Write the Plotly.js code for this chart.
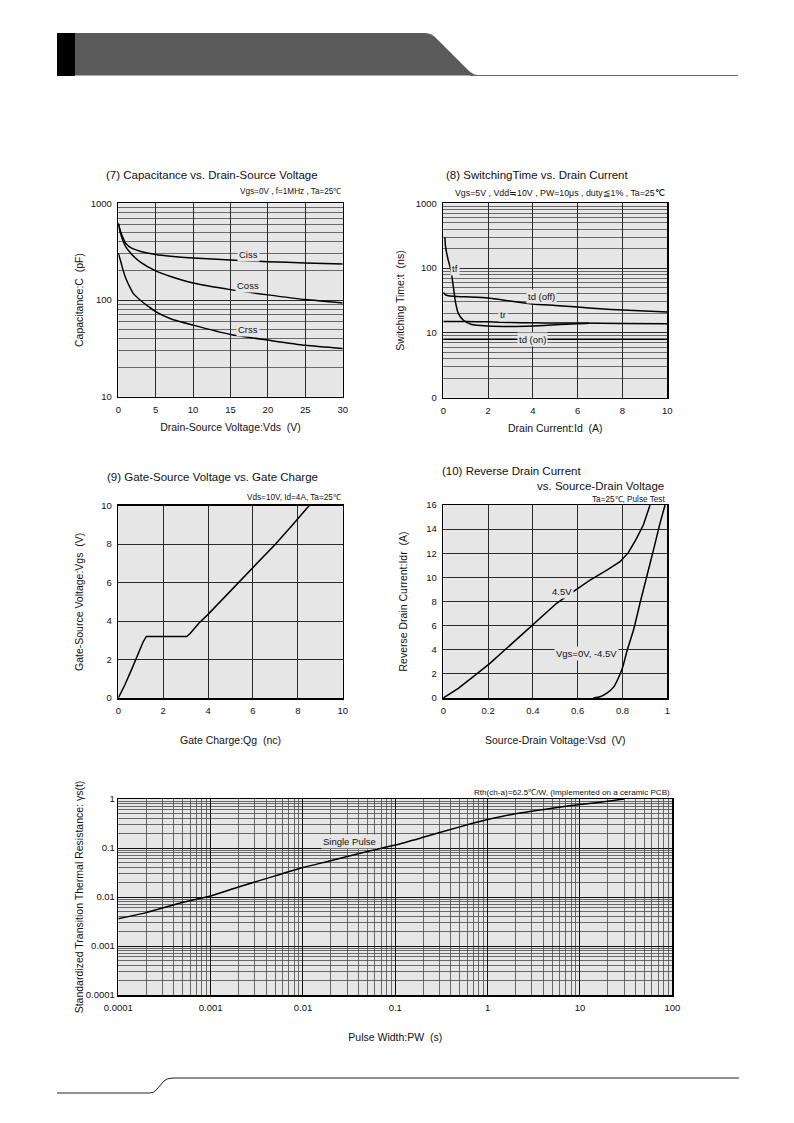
<!DOCTYPE html>
<html><head><meta charset="utf-8">
<script src="https://cdn.plot.ly/plotly-3.0.1.min.js"></script>
<style>
html,body{margin:0;padding:0;background:#fff;}
#wrap{position:relative;width:794px;height:1123px;overflow:hidden;}
#chart{position:absolute;left:0;top:0;width:794px;height:1123px;}
#deco{position:absolute;left:0;top:0;pointer-events:none;}
</style>
</head><body>
<div id="wrap">
<div id="chart"></div>
<svg id="deco" width="794" height="1123">
  <rect x="57" y="33" width="18" height="43" fill="#000"/>
  <path d="M75,33 L425,33 Q432,33 437,39 L468,70 Q473,75.5 482,75.5 L75,75.5 Z" fill="#5a5a5a"/>
  <line x1="470" y1="75.5" x2="738" y2="75.5" stroke="#666" stroke-width="1"/>
  <path d="M57,1093 L150,1093 Q154,1093 157,1089 L164,1081 Q167,1078 173,1078 L739,1078" fill="none" stroke="#222" stroke-width="1"/>
</svg>
</div>
<script>
// ---------- (7) Capacitance vs. Drain-Source Voltage ----------
const vdsCiss = [0, 0.3, 0.6, 1, 1.5, 2, 3, 5, 7, 10, 15, 20, 25, 30];
const ciss    = [620, 510, 445, 385, 355, 338, 318, 296, 284, 272, 259, 249, 242, 236];
const vdsCoss = [0, 0.3, 0.6, 1, 1.5, 2, 3, 5, 7, 10, 15, 20, 25, 30];
const coss    = [620, 490, 415, 355, 315, 285, 245, 200, 175, 150, 128, 113, 101, 93];
const vdsCrss = [0, 0.3, 0.67, 1, 1.56, 2, 2.9, 4, 5, 7, 10, 15, 20, 25, 30];
const crss    = [305, 255, 200, 168, 135, 117, 100, 86, 76, 64, 55, 44, 38.5, 34, 31.5];
const capLabels = ['Ciss', 'Coss', 'Crss'];
const capLabelX = [17.4, 17.4, 17.4];
const capLabelY = [299, 140, 49];

// ---------- (8) Switching Time vs. Drain Current ----------
const idTdOff = [0, 0.1, 0.3, 1, 2, 3, 4, 5, 6, 7, 8, 9, 10];
const tdOff   = [42, 38.5, 37, 36, 34.5, 31, 28, 26.5, 25, 23.5, 22.5, 21.7, 21];
const idTr    = [0, 1, 2, 3, 4, 5, 6, 8, 10];
const tr      = [15, 15, 14.8, 14.5, 14.3, 14.2, 14.2, 14, 13.8];
const idTf    = [0.07, 0.1, 0.22, 0.34, 0.45, 0.55, 0.67, 0.89, 1.26, 2, 3, 4, 5, 6, 6.5];
const tf      = [300, 215, 133, 93, 51, 29, 20, 15.8, 13.5, 12.8, 12.6, 12.8, 13.3, 13.9, 14.1];
const idTdOn  = [0, 10];
const tdOn    = [8, 8];
const swLabels = ['tf', 'td (off)', 'tr', 'td (on)'];
const swLabelX = [0.52, 4.39, 2.68, 4.0];
const swLabelY = [100, 37, 19, 7.8];

// ---------- (9) Gate-Source Voltage vs. Gate Charge ----------
const qg  = [0, 0.3, 0.6, 0.9, 1.1, 1.25, 3.05, 3.2, 3.6, 4, 5, 6, 7, 7.8, 8.1, 8.5];
const vgs = [0, 0.7, 1.5, 2.4, 2.9, 3.2, 3.2, 3.35, 3.9, 4.35, 5.55, 6.75, 8.0, 9.05, 9.45, 10];

// ---------- (10) Reverse Drain Current vs. Source-Drain Voltage ----------
const vsd45 = [0, 0.067, 0.134, 0.208, 0.283, 0.357, 0.432, 0.506, 0.58, 0.655, 0.73, 0.789, 0.826, 0.863, 0.893, 0.923];
const idr45 = [0, 0.8, 1.77, 2.87, 4.12, 5.36, 6.6, 7.85, 8.81, 9.78, 10.6, 11.3, 12.05, 13.24, 14.34, 16];
const vsd0  = [0.67, 0.7, 0.73, 0.76, 0.78, 0.8, 0.82, 0.85, 0.88, 0.91, 0.94, 0.965, 0.99];
const idr0  = [0, 0.1, 0.4, 0.9, 1.6, 2.5, 3.9, 5.7, 8.0, 10.2, 12.4, 14.3, 16];
const rdLabels = ['4.5V', 'Vgs=0V, -4.5V'];
const rdLabelX = [0.528, 0.64];
const rdLabelY = [8.81, 3.7];

// ---------- (11) Transient thermal resistance ----------
const pw  = [1e-4, 2e-4, 5e-4, 1e-3, 2e-3, 5e-3, 1e-2, 2e-2, 5e-2, 0.1, 0.2, 0.5, 1, 2, 5, 10, 20, 30];
const rth = [0.0036, 0.0048, 0.0078, 0.0105, 0.016, 0.027, 0.040, 0.055, 0.085, 0.115, 0.165, 0.27, 0.38, 0.5, 0.65, 0.77, 0.9, 1.0];
const pwTicks  = [1e-4, 1e-3, 1e-2, 0.1, 1, 10, 100];
const pwText   = ['0.0001', '0.001', '0.01', '0.1', '1', '10', '100'];
const rthTicks = [1e-4, 1e-3, 1e-2, 0.1, 1];
const rthText  = ['0.0001', '0.001', '0.01', '0.1', '1'];

// ---------- helpers ----------
const FONT = 'Liberation Sans, Arial, Helvetica, sans-serif';
const W = 794, H = 1123;
const dx = (a, b) => [a / W, b / W];
const dy = (top, bot) => [1 - bot / H, 1 - top / H];
function minorLog(d0, d1) { const v = []; for (let e = d0; e < d1; e++) for (let k = 2; k <= 9; k++) v.push(k * Math.pow(10, e)); return v; }

function ax(extra) {
  return Object.assign({
    showline: true, mirror: true, linecolor: '#000', linewidth: 1.5, ticks: '',
    showgrid: true, gridcolor: '#2a2a2a', gridwidth: 1, zeroline: false, ticklabelstandoff: 3,
    tickfont: {family: FONT, size: 9.5, color: '#111'}, fixedrange: true
  }, extra);
}
function ttl(text, standoff) { return {text: text, font: {family: FONT, size: 10.5, color: '#111'}, standoff: standoff}; }

const lineStyle = {color: '#000', width: 1.5};
function tr_(x, y, xa, ya, shape) { return {x: x, y: y, xaxis: xa, yaxis: ya, type: 'scatter', mode: 'lines', line: Object.assign({}, lineStyle, shape ? {shape: shape, smoothing: 0.6} : {}), hoverinfo: 'skip'}; }

const data = [
  tr_(vdsCiss, ciss, 'x', 'y', 'spline'),
  tr_(vdsCoss, coss, 'x', 'y', 'spline'),
  tr_(vdsCrss, crss, 'x', 'y', 'spline'),
  tr_(idTdOff, tdOff, 'x2', 'y2', 'spline'),
  tr_(idTr, tr, 'x2', 'y2', 'spline'),
  tr_(idTf, tf, 'x2', 'y2', 'spline'),
  tr_(idTdOn, tdOn, 'x2', 'y2'),
  tr_(qg, vgs, 'x3', 'y3'),
  tr_(vsd45, idr45, 'x4', 'y4'),
  tr_(vsd0, idr0, 'x4', 'y4', 'spline'),
  tr_(pw, rth, 'x5', 'y5', 'spline')
];

const annotations = [];
function paperText(text, x, y, xanchor, size) {
  annotations.push({text: text, x: x / W, y: 1 - y / H, xref: 'paper', yref: 'paper', xanchor: xanchor, yanchor: 'middle', showarrow: false, font: {family: FONT, size: size, color: '#111'}});
}
function inText(text, x, y, xa, ya, size) {
  annotations.push({text: text, x: x, y: y, xref: xa, yref: ya, xanchor: 'center', yanchor: 'middle', showarrow: false, bgcolor: '#e6e6e6', borderpad: 1, font: {family: FONT, size: size || 9.5, color: '#111'}});
}
// chart titles and conditions
paperText('(7) Capacitance vs. Drain-Source Voltage', 104, 175, 'left', 11.5);
paperText('Vgs=0V , f=1MHz , Ta=25℃', 343, 192, 'right', 8.2);
paperText('(8) SwitchingTime vs. Drain Current', 444, 175, 'left', 11.5);
paperText('Vgs=5V , Vdd≒10V , PW=10μs , duty≦1% , Ta=25℃', 667, 193, 'right', 8.8);
paperText('(9) Gate-Source Voltage vs. Gate Charge', 105, 477, 'left', 11.5);
paperText('Vds=10V, Id=4A, Ta=25℃', 343, 498, 'right', 8.2);
paperText('(10) Reverse Drain Current', 440, 471, 'left', 11.5);
paperText('vs. Source-Drain Voltage', 666, 486, 'right', 11.5);
paperText('Ta=25℃, Pulse Test', 667, 499, 'right', 8.2);
paperText('Rth(ch-a)=62.5℃/W, (Implemented on a ceramic PCB)', 672, 792, 'right', 8.1);
// in-plot labels
capLabels.forEach((t, i) => inText(t, capLabelX[i], Math.log10(capLabelY[i]), 'x', 'y'));
swLabels.forEach((t, i) => inText(t, swLabelX[i], Math.log10(swLabelY[i]), 'x2', 'y2'));
rdLabels.forEach((t, i) => inText(t, rdLabelX[i], rdLabelY[i], 'x4', 'y4'));
inText('Single Pulse', Math.log10(0.032), Math.log10(0.135), 'x5', 'y5');

const minorStyle = {showgrid: true, gridcolor: '#4a4a4a', gridwidth: 0.8, ticks: ''};

const layout = {
  width: W, height: H, margin: {l: 0, r: 0, t: 0, b: 0},
  paper_bgcolor: '#fff', plot_bgcolor: '#e6e6e6', showlegend: false,
  font: {family: FONT, color: '#111'},
  annotations: annotations,
  // (7)
  xaxis: ax({domain: dx(118.3, 342.7), anchor: 'y', range: [0, 30], dtick: 5, tick0: 0,
    title: ttl('Drain-Source Voltage:Vds  (V)', 10)}),
  yaxis: ax({domain: dy(203.3, 396.7), anchor: 'x', type: 'log', range: [1, 3],
    tickvals: [10, 100, 1000], ticktext: ['10', '100', '1000'],
    minor: Object.assign({tickvals: minorLog(1, 3)}, minorStyle),
    title: ttl('Capacitance:C  (pF)', 5)}),
  // (8)
  xaxis2: ax({domain: dx(443.3, 667.3), anchor: 'y2', range: [0, 10], dtick: 2, tick0: 0,
    title: ttl('Drain Current:Id  (A)', 10)}),
  yaxis2: ax({domain: dy(203.3, 397.7), anchor: 'x2', type: 'log', range: [0, 3],
    tickvals: [1, 10, 100, 1000], ticktext: ['0', '10', '100', '1000'],
    minor: Object.assign({tickvals: minorLog(0, 3)}, minorStyle),
    title: ttl('Switching Time:t  (ns)', 9)}),
  // (9)
  xaxis3: ax({domain: dx(118.3, 342.7), anchor: 'y3', range: [0, 10], dtick: 2, tick0: 0,
    title: ttl('Gate Charge:Qg  (nc)', 21)}),
  yaxis3: ax({domain: dy(505.7, 698), anchor: 'x3', range: [0, 10], dtick: 2, tick0: 0,
    title: ttl('Gate-Source Voltage:Vgs  (V)', 15)}),
  // (10)
  xaxis4: ax({domain: dx(443.3, 667.3), anchor: 'y4', range: [0, 1], dtick: 0.2, tick0: 0,
    title: ttl('Source-Drain Voltage:Vsd  (V)', 21)}),
  yaxis4: ax({domain: dy(505, 698), anchor: 'x4', range: [0, 16], dtick: 2, tick0: 0,
    title: ttl('Reverse Drain Current:Idr  (A)', 16)}),
  // (11)
  xaxis5: ax({domain: dx(118.3, 672.3), anchor: 'y5', type: 'log', range: [-4, 2],
    tickvals: pwTicks, ticktext: pwText, gridcolor: '#111',
    minor: Object.assign({tickvals: minorLog(-4, 2)}, minorStyle),
    title: ttl('Pulse Width:PW  (s)', 21)}),
  yaxis5: ax({domain: dy(799, 995), anchor: 'x5', type: 'log', range: [-4, 0],
    tickvals: rthTicks, ticktext: rthText, gridcolor: '#111', ticklabelstandoff: 0,
    minor: Object.assign({tickvals: minorLog(-4, 0)}, minorStyle),
    title: ttl('Standardized Transition Thermal Resistance: γs(t)', 0)})
};

Plotly.newPlot('chart', data, layout, {staticPlot: true, displayModeBar: false});
</script>
</body></html>
